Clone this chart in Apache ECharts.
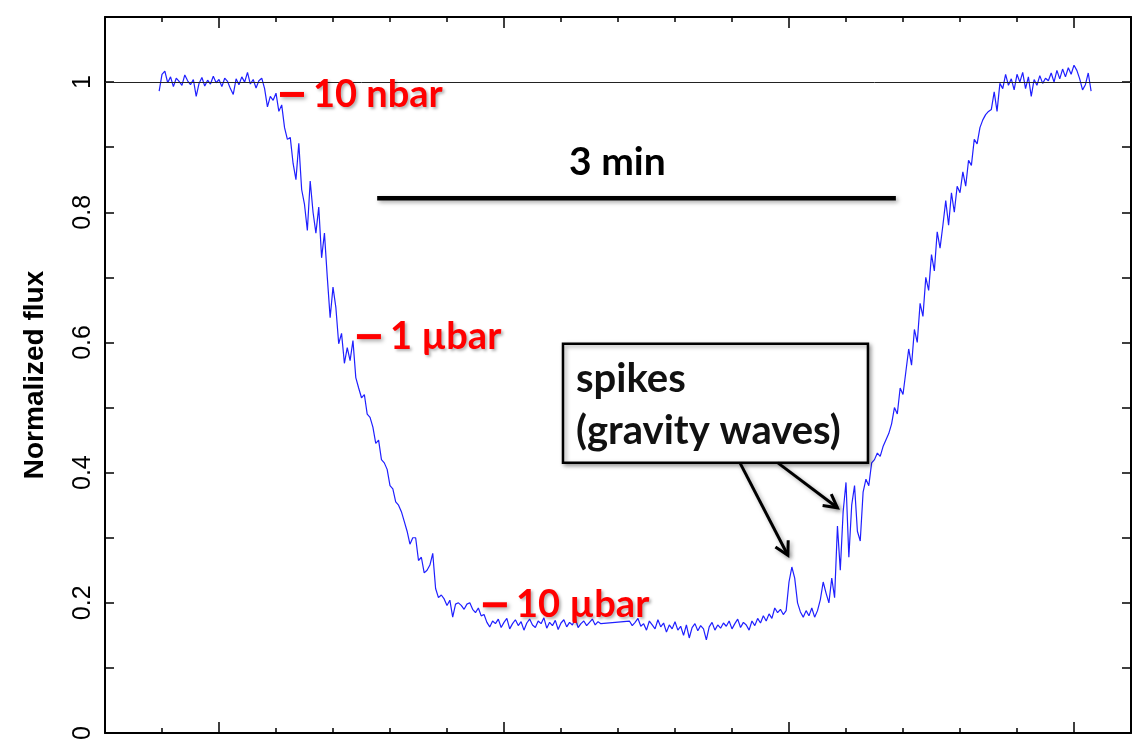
<!DOCTYPE html>
<html>
<head>
<meta charset="utf-8">
<title>Normalized flux</title>
<script src="https://cdn.jsdelivr.net/npm/echarts@6/dist/echarts.min.js"></script>
<style>
html, body { margin: 0; padding: 0; background: #fff; }
#chart { width: 1134px; height: 750px; }
</style>
</head>
<body>
<div id="chart"></div>
<script>
// light curve, one sample per second; t = 0 sits on the first long tick
const sampleStep = 1;

// baseline before the event, t = -21 .. 15
const preStart = -21;
const preFlux = [
  0.986, 1.012, 1.017, 0.999, 1.008, 0.993, 1.006, 1.001, 0.995, 1.011,
  1.002, 0.996, 1.004, 0.978, 0.998, 1.007, 0.994, 1.003, 0.997, 1.009,
  0.999, 1.004, 0.993, 1.006, 1.001, 0.990, 0.981, 1.005, 0.996, 1.008,
  1.000, 1.015, 0.997, 1.004, 0.991, 1.002, 1.006
];

// ingress, t = 16 .. 99
const ingressStart = 16;
const ingressFlux = [
  0.990, 0.962, 0.978, 0.972, 0.983, 0.955, 0.965, 0.930, 0.912, 0.915,
  0.875, 0.850, 0.906, 0.835, 0.812, 0.772, 0.848, 0.800, 0.768, 0.808,
  0.730, 0.768, 0.700, 0.638, 0.685, 0.654, 0.598, 0.614, 0.568, 0.592,
  0.572, 0.603, 0.546, 0.530, 0.515, 0.520, 0.490, 0.485, 0.470, 0.445,
  0.450, 0.420, 0.415, 0.405, 0.380, 0.375, 0.355, 0.350, 0.340, 0.325,
  0.310, 0.290, 0.300, 0.300, 0.265, 0.270, 0.246, 0.250, 0.258, 0.276,
  0.222, 0.208, 0.212, 0.206, 0.196, 0.204, 0.178, 0.198, 0.200, 0.196,
  0.190, 0.198, 0.200, 0.190, 0.185, 0.192, 0.180, 0.182, 0.170, 0.163,
  0.172, 0.168, 0.175, 0.162
];

// floor, first part, t = 100 .. 134 (no data from 135 to 143)
const floorStartA = 100;
const floorFluxA = [
  0.170, 0.176, 0.160, 0.168, 0.174, 0.165, 0.171, 0.158, 0.169, 0.175,
  0.166, 0.162, 0.172, 0.168, 0.177, 0.161, 0.170, 0.165, 0.173, 0.159,
  0.169, 0.174, 0.163, 0.170, 0.166, 0.176, 0.162, 0.168, 0.172, 0.165,
  0.170, 0.175, 0.166, 0.171, 0.168
];

// floor, second part, t = 144 .. 199
const floorStartB = 144;
const floorFluxB = [
  0.172, 0.165, 0.170, 0.176, 0.164, 0.168, 0.158, 0.172, 0.166, 0.160,
  0.174, 0.163, 0.169, 0.155, 0.166, 0.160, 0.171, 0.158, 0.164, 0.150,
  0.166, 0.146, 0.162, 0.168, 0.157, 0.165, 0.160, 0.143, 0.163, 0.170,
  0.158, 0.166, 0.161, 0.169, 0.164, 0.172, 0.160, 0.168, 0.175, 0.162,
  0.170, 0.166, 0.158, 0.172, 0.165, 0.176, 0.169, 0.180, 0.172, 0.183,
  0.176, 0.192, 0.185, 0.190, 0.182, 0.188
];

// spikes and egress, t = 200 .. 272
const egressStart = 200;
const egressFlux = [
  0.232, 0.255, 0.238, 0.200, 0.186, 0.178, 0.188, 0.180, 0.192, 0.178,
  0.188, 0.205, 0.232, 0.215, 0.200, 0.238, 0.208, 0.318, 0.250, 0.340,
  0.385, 0.270, 0.350, 0.380, 0.310, 0.295, 0.370, 0.390, 0.380, 0.415,
  0.420, 0.430, 0.425, 0.440, 0.450, 0.460, 0.475, 0.500, 0.490, 0.530,
  0.520, 0.555, 0.590, 0.565, 0.620, 0.600, 0.660, 0.640, 0.700, 0.680,
  0.735, 0.710, 0.770, 0.745, 0.780, 0.818, 0.780, 0.830, 0.800, 0.840,
  0.830, 0.862, 0.840, 0.880, 0.872, 0.912, 0.905, 0.930, 0.942, 0.950,
  0.955, 0.958, 0.985
];

// baseline after the event, t = 273 .. 306
const postStart = 273;
const postFlux = [
  0.955, 0.998, 0.990, 1.012, 0.995, 1.005, 0.988, 1.012, 1.000, 1.015,
  0.990, 1.008, 0.978, 1.004, 0.995, 1.010, 0.998, 1.006, 1.002, 1.014,
  1.000, 1.018, 1.005, 1.020, 1.008, 1.022, 1.012, 1.026, 1.018, 1.005,
  0.988, 0.996, 1.014, 0.986
];

// axis extents
const timeMin = -40, timeMax = 320;
const fluxMin = 0, fluxMax = 1.1, fluxStep = 0.1;

// annotations (data coordinates)
const pressureLabels = ['10 nbar', '1 \u00b5bar', '10 \u00b5bar'];
const pressureTime = [21.4, 48.4, 92.6];
const pressureFlux = [0.981, 0.609, 0.197];
const scaleBarTime = [55.5, 237.5];
const scaleBarFlux = 0.8215;
const scaleBarText = '3 min';
const scaleTextAt = [139.8, 0.876];
const boxTime = [120.7, 227.7];
const boxFlux = [0.598, 0.415];
const boxText = ['spikes', '(gravity waves)'];
const arrowFrom = [[182.8, 0.415], [196.1, 0.415]];
const arrowTo = [[199.6, 0.273], [217.0, 0.346]];

function segment(start, values) {
  return values.map((v, i) => [start + i * sampleStep, v]);
}
const curve = [].concat(
  segment(preStart, preFlux),
  segment(ingressStart, ingressFlux),
  segment(floorStartA, floorFluxA),
  segment(floorStartB, floorFluxB),
  segment(egressStart, egressFlux),
  segment(postStart, postFlux)
);

const axisFont = "'Liberation Sans', Arial, sans-serif";
const noteFont = "Lato, 'Noto Sans', sans-serif";

const xAxisBase = {
  type: 'value', min: timeMin, max: timeMax, splitNumber: 4,
  axisLine: { show: true, onZero: false, lineStyle: { color: '#000', width: 2 } },
  axisTick: { show: true, inside: true, length: 11, lineStyle: { color: '#000', width: 1.5 } },
  minorTick: { show: true, splitNumber: 5, length: 5, lineStyle: { color: '#000', width: 1.5 } },
  axisLabel: { show: false },
  splitLine: { show: false }
};
const yAxisBase = {
  type: 'value', min: fluxMin, max: fluxMax, interval: fluxStep,
  axisLine: { show: true, onZero: false, lineStyle: { color: '#000', width: 2 } },
  axisTick: { show: true, inside: true, length: 9, lineStyle: { color: '#000', width: 1.5 } },
  splitLine: { show: false }
};

const chart = echarts.init(document.getElementById('chart'), null, { renderer: 'canvas' });

chart.setOption({
  animation: false,
  backgroundColor: '#fff',
  grid: { left: 105, right: 3, top: 17, bottom: 17 },
  xAxis: [
    Object.assign({}, xAxisBase, { position: 'bottom' }),
    Object.assign({}, xAxisBase, { position: 'top' })
  ],
  yAxis: [
    Object.assign({}, yAxisBase, {
      position: 'left',
      name: 'Normalized flux',
      nameLocation: 'middle',
      nameRotate: 90,
      nameGap: 56,
      nameTextStyle: { fontFamily: axisFont, fontWeight: 'bold', fontSize: 28, color: '#000' },
      axisLabel: {
        show: true, rotate: 90, margin: 9,
        fontFamily: axisFont, fontSize: 25, color: '#000',
        formatter: v => (Math.round(v * 10) % 2 === 0 ? String(+v.toFixed(1)) : '')
      }
    }),
    Object.assign({}, yAxisBase, { position: 'right', axisLabel: { show: false } })
  ],
  series: [{
    type: 'line',
    data: curve,
    showSymbol: false,
    symbol: 'none',
    lineStyle: { color: '#1f1fff', width: 1.2 },
    markLine: {
      silent: true,
      symbol: ['none', 'none'],
      label: { show: false },
      lineStyle: { color: '#222', width: 1, type: 'solid' },
      data: [{ yAxis: 1 }]
    },
    z: 3
  }]
});

const toPx = (t, v) => chart.convertToPixel({ seriesIndex: 0 }, [t, v]);
const shadow = { shadowBlur: 4, shadowColor: 'rgba(0,0,0,0.35)', shadowOffsetX: 2, shadowOffsetY: 2 };
const graphics = [];

// pressure marks
pressureLabels.forEach((label, i) => {
  const p = toPx(pressureTime[i], pressureFlux[i]);
  graphics.push({
    type: 'line', z: 10,
    shape: { x1: p[0], y1: p[1], x2: p[0] + 24, y2: p[1] },
    style: Object.assign({ stroke: '#ff0000', lineWidth: 5 }, shadow)
  });
  graphics.push({
    type: 'text', z: 10, x: p[0] + 33, y: p[1],
    style: {
      text: label, fill: '#ff0000', font: 'bold 38px ' + noteFont,
      align: 'left', verticalAlign: 'middle',
      textShadowColor: 'rgba(0,0,0,0.3)', textShadowBlur: 3, textShadowOffsetX: 2, textShadowOffsetY: 2
    }
  });
});

// 3 min scale bar
const b0 = toPx(scaleBarTime[0], scaleBarFlux);
const b1 = toPx(scaleBarTime[1], scaleBarFlux);
graphics.push({
  type: 'line', z: 10,
  shape: { x1: b0[0], y1: b0[1], x2: b1[0], y2: b1[1] },
  style: Object.assign({ stroke: '#000', lineWidth: 4.5 }, shadow)
});
const st = toPx(scaleTextAt[0], scaleTextAt[1]);
graphics.push({
  type: 'text', z: 10, x: st[0], y: st[1],
  style: { text: scaleBarText, fill: '#000', font: 'bold 39px ' + noteFont, align: 'center', verticalAlign: 'middle' }
});

// spikes box
const r0 = toPx(boxTime[0], boxFlux[0]);
const r1 = toPx(boxTime[1], boxFlux[1]);
graphics.push({
  type: 'rect', z: 10,
  shape: { x: r0[0], y: r0[1], width: r1[0] - r0[0], height: r1[1] - r0[1] },
  style: Object.assign({ fill: '#fff', stroke: '#000', lineWidth: 2.5 }, shadow)
});
graphics.push({
  type: 'text', z: 11, x: r0[0] + 13, y: (r0[1] + r1[1]) / 2 + 2,
  style: {
    text: boxText.join('\n'), fill: '#111', font: 'bold 40px ' + noteFont,
    lineHeight: 52, align: 'left', verticalAlign: 'middle'
  }
});

// arrows
arrowFrom.forEach((from, i) => {
  const a = toPx(from[0], from[1]);
  const b = toPx(arrowTo[i][0], arrowTo[i][1]);
  const ang = Math.atan2(b[1] - a[1], b[0] - a[0]);
  const head = 15, spread = 0.5;
  const h1 = [b[0] - head * Math.cos(ang - spread), b[1] - head * Math.sin(ang - spread)];
  const h2 = [b[0] - head * Math.cos(ang + spread), b[1] - head * Math.sin(ang + spread)];
  graphics.push({
    type: 'polyline', z: 10, shape: { points: [a, b] },
    style: Object.assign({ stroke: '#000', lineWidth: 3, fill: null }, shadow)
  });
  graphics.push({
    type: 'polyline', z: 10, shape: { points: [h1, b, h2] },
    style: Object.assign({ stroke: '#000', lineWidth: 3, fill: null, lineJoin: 'miter' }, shadow)
  });
});

chart.setOption({ graphic: graphics });
</script>
</body>
</html>
